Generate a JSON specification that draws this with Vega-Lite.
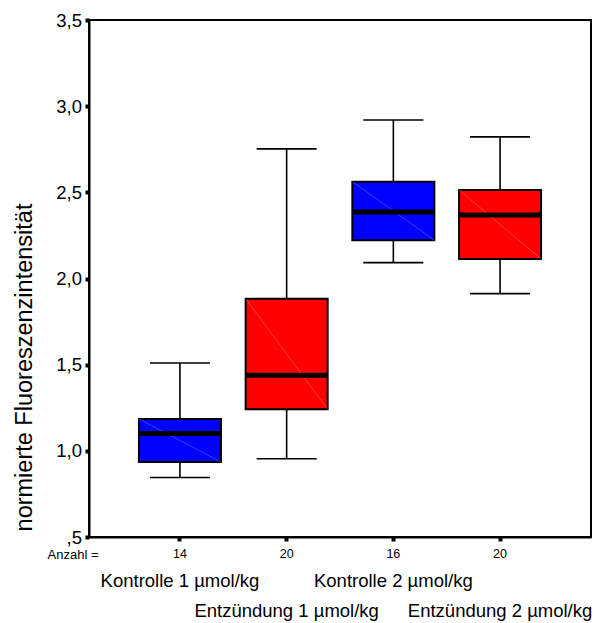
{
  "$schema": "https://vega.github.io/schema/vega-lite/v6.json",
  "width": 502,
  "height": 517,
  "autosize": "none",
  "padding": {"left": 89, "top": 20, "right": 7, "bottom": 86},
  "background": "white",
  "config": {
    "font": "Liberation Sans",
    "view": {"stroke": "black", "strokeWidth": 2},
    "axis": {"grid": false}
  },
  "data": {
    "values": [
      {"gruppe": "Kontrolle 1 µmol/kg", "typ": "Kontrolle", "n": 14, "lower": 0.845, "q1": 0.935, "median": 1.10, "q3": 1.185, "upper": 1.51},
      {"gruppe": "Entzündung 1 µmol/kg", "typ": "Entzündung", "n": 20, "lower": 0.954, "q1": 1.241, "median": 1.438, "q3": 1.883, "upper": 2.752},
      {"gruppe": "Kontrolle 2 µmol/kg", "typ": "Kontrolle", "n": 16, "lower": 2.092, "q1": 2.222, "median": 2.386, "q3": 2.562, "upper": 2.92},
      {"gruppe": "Entzündung 2 µmol/kg", "typ": "Entzündung", "n": 20, "lower": 1.912, "q1": 2.113, "median": 2.369, "q3": 2.514, "upper": 2.822}
    ]
  },
  "resolve": {"axis": {"x": "independent"}},
  "layer": [
    {
      "mark": {"type": "rule", "stroke": "black", "strokeWidth": 1.6},
      "encoding": {
        "x": {
          "field": "gruppe", "type": "nominal",
          "scale": {"domain": ["Kontrolle 1 µmol/kg", "Entzündung 1 µmol/kg", "Kontrolle 2 µmol/kg", "Entzündung 2 µmol/kg"], "paddingInner": 0.2315, "paddingOuter": 0.468},
          "axis": {
            "orient": "bottom", "title": null, "domain": false, "ticks": false, "tickSize": 0,
            "labelAngle": 0, "labelFontSize": 18.5, "labelColor": "black", "labelBaseline": "alphabetic",
            "labelPadding": 49, "labelLineHeight": 30.7, "labelOverlap": false, "labelBound": false, "labelFlush": false,
            "labelLimit": 1000,
            "labelExpr": "indexof(datum.value, 'Entz') == 0 ? ['', datum.value] : datum.value"
          }
        },
        "y": {
          "field": "lower", "type": "quantitative",
          "scale": {"domain": [0.5, 3.5], "nice": false, "zero": false},
          "axis": {
            "title": "normierte Fluoreszenzintensität",
            "values": [0.5, 1, 1.5, 2, 2.5, 3, 3.5],
            "labelExpr": "datum.value < 1 ? ',5' : replace(format(datum.value, '.1f'), '.', ',')",
            "labelFontSize": 18.5, "labelColor": "black", "labelPadding": 3.5,
            "tickSize": 4, "tickWidth": 4, "tickColor": "black",
            "domainColor": "black", "domainWidth": 2,
            "titleFontSize": 23.5, "titleFontWeight": "normal", "titleColor": "black",
            "titleX": -65, "titleY": 347, "titleAlign": "center", "titleBaseline": "middle", "titleAngle": -90
          }
        },
        "y2": {"field": "upper"}
      }
    },
    {
      "mark": {"type": "tick", "color": "black", "opacity": 1, "size": 60, "thickness": 1.6},
      "encoding": {
        "x": {"field": "gruppe", "type": "nominal", "axis": null},
        "y": {"field": "lower", "type": "quantitative", "title": "normierte Fluoreszenzintensität"}
      }
    },
    {
      "mark": {"type": "tick", "color": "black", "opacity": 1, "size": 60, "thickness": 1.6},
      "encoding": {
        "x": {"field": "gruppe", "type": "nominal", "axis": null},
        "y": {"field": "upper", "type": "quantitative", "title": "normierte Fluoreszenzintensität"}
      }
    },
    {
      "mark": {"type": "bar", "stroke": "black", "strokeWidth": 2, "opacity": 1},
      "encoding": {
        "x": {
          "field": "gruppe", "type": "nominal",
          "axis": {
            "orient": "bottom", "title": "Anzahl =", "titleFontSize": 13, "titleFontWeight": "normal", "titleColor": "black",
            "titleX": 9, "titleY": 17, "titleAlign": "right", "titleBaseline": "middle", "titleAnchor": null,
            "domainColor": "black", "domainWidth": 2,
            "tickSize": 4, "tickWidth": 4, "tickColor": "black",
            "labelAngle": 0, "labelFontSize": 12.5, "labelColor": "black", "labelBaseline": "middle", "labelPadding": 12.5,
            "labelExpr": "datum.value == 'Kontrolle 1 µmol/kg' ? '14' : datum.value == 'Kontrolle 2 µmol/kg' ? '16' : '20'"
          }
        },
        "y": {"field": "q1", "type": "quantitative", "title": "normierte Fluoreszenzintensität"},
        "y2": {"field": "q3"},
        "color": {"field": "typ", "type": "nominal", "scale": {"domain": ["Kontrolle", "Entzündung"], "range": ["#0000ff", "#ff0000"]}, "legend": null}
      }
    },
    {
      "mark": {"type": "rule", "stroke": "white", "strokeOpacity": 0.35, "strokeWidth": 0.7},
      "encoding": {
        "x": {"field": "gruppe", "type": "nominal", "bandPosition": 0, "axis": null},
        "x2": {"field": "gruppe", "bandPosition": 1},
        "y": {"field": "q3", "type": "quantitative", "title": "normierte Fluoreszenzintensität"},
        "y2": {"field": "q1"}
      }
    },
    {
      "mark": {"type": "tick", "color": "black", "opacity": 1, "size": 82, "thickness": 5},
      "encoding": {
        "x": {"field": "gruppe", "type": "nominal", "axis": null},
        "y": {"field": "median", "type": "quantitative", "title": "normierte Fluoreszenzintensität"}
      }
    }
  ]
}
